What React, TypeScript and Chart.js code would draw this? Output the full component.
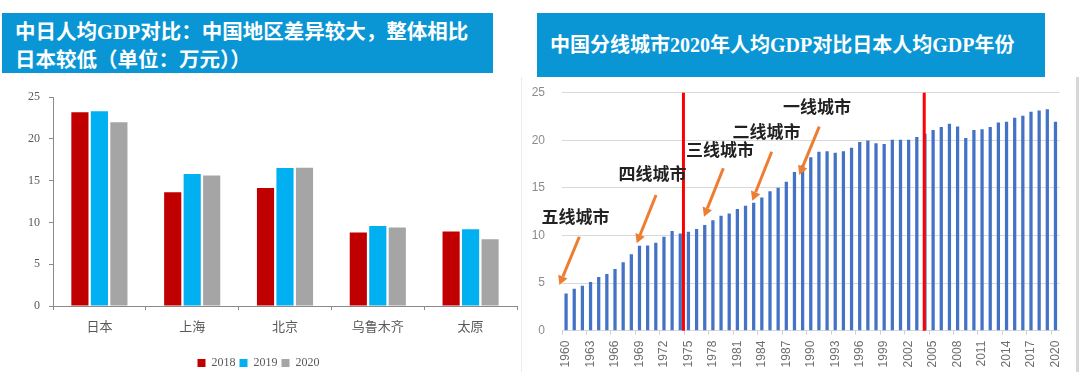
import React, { useEffect, useRef } from 'react';
import { Chart, registerables } from 'chart.js';

Chart.register(...registerables);

// ---------- Left chart data ----------
const regions = ['日本', '上海', '北京', '乌鲁木齐', '太原'];
const seriesNames = ['2018', '2019', '2020'];
const gdp2018 = [23.17, 13.6, 14.1, 8.8, 8.9];
const gdp2019 = [23.3, 15.8, 16.5, 9.57, 9.17];
const gdp2020 = [21.97, 15.6, 16.55, 9.4, 7.97];
const leftYMax = 25;
const leftYStep = 5;

// ---------- Right chart data ----------
const years = [
  '1960', '1961', '1962', '1963', '1964', '1965', '1966', '1967', '1968', '1969',
  '1970', '1971', '1972', '1973', '1974', '1975', '1976', '1977', '1978', '1979',
  '1980', '1981', '1982', '1983', '1984', '1985', '1986', '1987', '1988', '1989',
  '1990', '1991', '1992', '1993', '1994', '1995', '1996', '1997', '1998', '1999',
  '2000', '2001', '2002', '2003', '2004', '2005', '2006', '2007', '2008', '2009',
  '2010', '2011', '2012', '2013', '2014', '2015', '2016', '2017', '2018', '2019',
  '2020',
];
const japanGdp = [
  3.92, 4.41, 4.73, 5.11, 5.64, 5.95, 6.48, 7.18, 8.02, 8.93,
  8.96, 9.24, 9.87, 10.47, 10.22, 10.4, 10.68, 11.1, 11.59, 12.08,
  12.32, 12.78, 13.13, 13.45, 14.0, 14.64, 15.02, 15.65, 16.67, 17.4,
  18.21, 18.8, 18.84, 18.7, 18.84, 19.22, 19.82, 19.99, 19.68, 19.6,
  20.06, 20.06, 20.06, 20.34, 20.7, 21.08, 21.39, 21.74, 21.46, 20.24,
  21.08, 21.15, 21.39, 21.88, 21.95, 22.37, 22.58, 23.0, 23.14, 23.25,
  21.95,
];
const rightYMax = 25;
const rightYStep = 5;
const yearLabelEvery = 3;

// tier annotations (in data units: year, value)
const tierLabels = ['五线城市', '四线城市', '三线城市', '二线城市', '一线城市'];
const tierLabelYear = [1961.16, 1970.6, 1978.87, 1984.57, 1990.76];
const tierLabelValue = [11.97, 16.46, 18.98, 20.87, 23.5];
const arrowFromYear = [1961.63, 1971.03, 1979.28, 1985.21, 1991.04];
const arrowFromValue = [9.87, 14.26, 17.06, 18.8, 21.43];
const arrowToYear = [1959.18, 1968.66, 1976.91, 1982.83, 1988.59];
const arrowToValue = [4.8, 9.18, 11.97, 13.66, 16.36];
const tierLineYears = [1974.39, 2003.91];

const leftTitle1 = '中日人均GDP对比：中国地区差异较大，整体相比';
const leftTitle2 = '日本较低（单位：万元））';
const rightTitle = '中国分线城市2020年人均GDP对比日本人均GDP年份';

const bannerBlue = '#0a96d4';
const titleFont = '"Liberation Serif", "Noto Sans CJK SC", serif';

const tierPlugin = {
  id: 'tierAnnotations',
  afterDatasetsDraw(chart: any) {
    const { ctx, scales } = chart;
    const x = scales.x;
    const y = scales.y;
    const first = Number(years[0]);
    const px = (yr: number) => x.getPixelForValue(yr - first);
    ctx.save();
    // red divider lines
    ctx.strokeStyle = '#ff0000';
    ctx.lineWidth = 3;
    tierLineYears.forEach((yr) => {
      const xx = px(yr);
      ctx.beginPath();
      ctx.moveTo(xx, y.getPixelForValue(rightYMax));
      ctx.lineTo(xx, y.getPixelForValue(0));
      ctx.stroke();
    });
    // arrows
    ctx.strokeStyle = '#ed7d31';
    ctx.fillStyle = '#ed7d31';
    ctx.lineWidth = 3;
    ctx.lineCap = 'butt';
    for (let i = 0; i < tierLabels.length; i++) {
      const fx = px(arrowFromYear[i]);
      const fy = y.getPixelForValue(arrowFromValue[i]);
      const tx = px(arrowToYear[i]);
      const ty = y.getPixelForValue(arrowToValue[i]);
      const ang = Math.atan2(ty - fy, tx - fx);
      const head = 9;
      const half = 5;
      const bx = tx - head * Math.cos(ang);
      const by = ty - head * Math.sin(ang);
      ctx.beginPath();
      ctx.moveTo(fx, fy);
      ctx.lineTo(bx, by);
      ctx.stroke();
      ctx.beginPath();
      ctx.moveTo(tx, ty);
      ctx.lineTo(bx + half * Math.sin(ang), by - half * Math.cos(ang));
      ctx.lineTo(bx - half * Math.sin(ang), by + half * Math.cos(ang));
      ctx.closePath();
      ctx.fill();
    }
    // labels
    ctx.font = 'bold 17px "Noto Sans CJK SC"';
    ctx.fillStyle = '#222222';
    ctx.textAlign = 'center';
    ctx.textBaseline = 'middle';
    for (let i = 0; i < tierLabels.length; i++) {
      ctx.fillText(tierLabels[i], px(tierLabelYear[i]), y.getPixelForValue(tierLabelValue[i]));
    }
    ctx.restore();
  },
};

export default function App() {
  const leftRef = useRef<HTMLCanvasElement | null>(null);
  const rightRef = useRef<HTMLCanvasElement | null>(null);

  useEffect(() => {
    const axisGray = '#8a8a8a';
    const left = new Chart(leftRef.current as HTMLCanvasElement, {
      type: 'bar',
      data: {
        labels: regions,
        datasets: [
          { label: seriesNames[0], data: gdp2018, backgroundColor: '#c00000' },
          { label: seriesNames[1], data: gdp2019, backgroundColor: '#00b0f0' },
          { label: seriesNames[2], data: gdp2020, backgroundColor: '#a5a5a5' },
        ],
      },
      options: {
        responsive: false,
        animation: false,
        datasets: { bar: { categoryPercentage: 0.63, barPercentage: 0.88 } },
        layout: { padding: { left: 0, right: 5, top: 17, bottom: 1 } },
        plugins: {
          legend: {
            position: 'bottom',
            labels: {
              boxWidth: 8,
              boxHeight: 8,
              padding: 4,
              color: '#595959',
              font: { family: '"Liberation Serif", serif', size: 12 },
            },
          },
          tooltip: { enabled: false },
        },
        scales: {
          x: {
            afterFit: (s: any) => { s.height = 47; },
            grid: { drawOnChartArea: false, tickLength: 4, color: axisGray, tickColor: axisGray },
            border: { color: axisGray },
            ticks: { color: '#595959', padding: 8, font: { family: '"Noto Sans CJK SC"', size: 13 } },
          },
          y: {
            min: 0,
            max: leftYMax,
            afterFit: (s: any) => { s.width = 53; },
            grid: { drawOnChartArea: false, tickLength: 4, color: axisGray, tickColor: axisGray },
            border: { color: axisGray },
            ticks: {
              stepSize: leftYStep,
              color: '#595959',
              padding: 9,
              font: { family: '"Liberation Serif", serif', size: 12 },
            },
          },
        },
      },
    });

    const right = new Chart(rightRef.current as HTMLCanvasElement, {
      type: 'bar',
      data: {
        labels: years,
        datasets: [{ label: '日本人均GDP', data: japanGdp, backgroundColor: '#4472c4' }],
      },
      options: {
        responsive: false,
        animation: false,
        datasets: { bar: { categoryPercentage: 1, barPercentage: 0.4 } },
        layout: { padding: { left: 0, right: 16, top: 15.7, bottom: 0 } },
        plugins: { legend: { display: false }, tooltip: { enabled: false } },
        scales: {
          x: {
            afterFit: (s: any) => { s.height = 41.3; },
            grid: {
              drawOnChartArea: false,
              tickLength: 4,
              tickColor: (c: any) => (c.index % yearLabelEvery === 0 ? '#d0d0d0' : 'rgba(0,0,0,0)'),
            },
            border: { color: '#d9d9d9' },
            ticks: {
              autoSkip: false,
              minRotation: 90,
              maxRotation: 90,
              padding: 6,
              color: '#6e6e6e',
              font: { family: '"Liberation Sans", sans-serif', size: 12 },
              callback: (_v: any, i: number) => (i % yearLabelEvery === 0 ? years[i] : ''),
            },
          },
          y: {
            min: 0,
            max: rightYMax,
            afterFit: (s: any) => { s.width = 40; },
            grid: { color: '#d9d9d9', drawTicks: true, tickLength: 13, tickColor: 'rgba(0,0,0,0)' },
            border: { display: false },
            ticks: {
              stepSize: rightYStep,
              padding: 4,
              color: '#8c8c8c',
              font: { family: '"Liberation Sans", sans-serif', size: 12 },
            },
          },
        },
      },
      plugins: [tierPlugin],
    });

    return () => {
      left.destroy();
      right.destroy();
    };
  }, []);

  return (
    <div style={{ position: 'absolute', left: 0, top: 0, width: 1080, height: 390, background: '#ffffff', overflow: 'hidden' }}>
      <div
        style={{
          position: 'absolute', left: 2, top: 13, width: 491, height: 60, background: bannerBlue,
          color: '#ffffff', fontFamily: titleFont, fontWeight: 'bold', fontSize: 20.5, lineHeight: '28px',
          padding: '5px 0 0 13px', boxSizing: 'border-box', whiteSpace: 'nowrap',
        }}
      >
        <div>{leftTitle1}</div>
        <div>{leftTitle2}</div>
      </div>
      <div
        style={{
          position: 'absolute', left: 537, top: 13, width: 508, height: 64, background: bannerBlue,
          color: '#ffffff', fontFamily: titleFont, fontWeight: 'bold', fontSize: 20, lineHeight: '28px',
          padding: '18px 0 0 13px', boxSizing: 'border-box', whiteSpace: 'nowrap',
        }}
      >
        {rightTitle}
      </div>
      <canvas ref={leftRef} width={522} height={300} style={{ position: 'absolute', left: 0, top: 80, width: 522, height: 300 }} />
      <div
        style={{
          position: 'absolute', left: 521, top: 77, width: 554, height: 295,
          borderLeft: '1px solid #ececec', borderRight: '3px solid #d6d6d6',
        }}
      />
      <canvas ref={rightRef} width={554} height={295} style={{ position: 'absolute', left: 522, top: 77, width: 554, height: 295 }} />
    </div>
  );
}
